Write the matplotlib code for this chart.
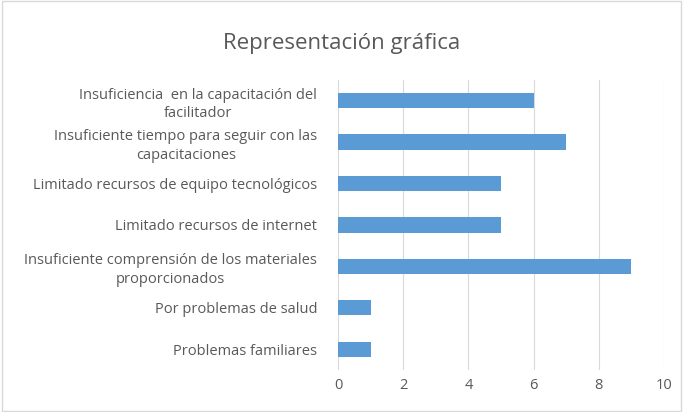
import matplotlib
matplotlib.use("Agg")
import matplotlib.pyplot as plt
from matplotlib.patches import Rectangle

# data (top to bottom as shown)
categories = [
    "Insuficiencia  en la capacitación del\nfacilitador",
    "Insuficiente tiempo para seguir con las\ncapacitaciones",
    "Limitado recursos de equipo tecnológicos",
    "Limitado recursos de internet",
    "Insuficiente comprensión de los materiales\nproporcionados",
    "Por problemas de salud",
    "Problemas familiares",
]
values = [6, 7, 5, 5, 9, 1, 1]
xticks = [0, 2, 4, 6, 8, 10]

plt.rcParams['font.family'] = ['Open Sans', 'DejaVu Sans']
text_color = "#595959"

fig = plt.figure(figsize=(6.83, 4.12), dpi=100)
fig.patches.append(Rectangle((0.003, 0.003), 0.994, 0.994, transform=fig.transFigure,
                             fill=False, edgecolor="#d9d9d9", linewidth=1))
ax = fig.add_axes([0.495, 0.102, 0.477, 0.704])

ypos = list(range(len(categories)))[::-1]
ax.barh(ypos, values, height=0.37, color="#5B9BD5", zorder=3)

ax.set_xlim(0, 10)
ax.set_ylim(-0.5, len(categories) - 0.5)
ax.set_xticks(xticks)
ax.set_xticklabels([str(t) for t in xticks])
ax.set_yticks(ypos)
ax.set_yticklabels(categories)
for t in ax.get_yticklabels():
    t.set_multialignment("center")
    t.set_linespacing(1.35)
ax.grid(axis="x", color="#d9d9d9", linewidth=0.8, zorder=0)
for s in ax.spines.values():
    s.set_visible(False)
ax.tick_params(axis="both", length=0, colors=text_color, labelsize=10.5)
ax.tick_params(axis="y", pad=15)
ax.tick_params(axis="x", pad=6)

fig.text(0.5, 0.895, "Representación gráfica", ha="center", va="center",
         fontsize=16, color=text_color)

fig.savefig("out.png", dpi=100, facecolor="white")
